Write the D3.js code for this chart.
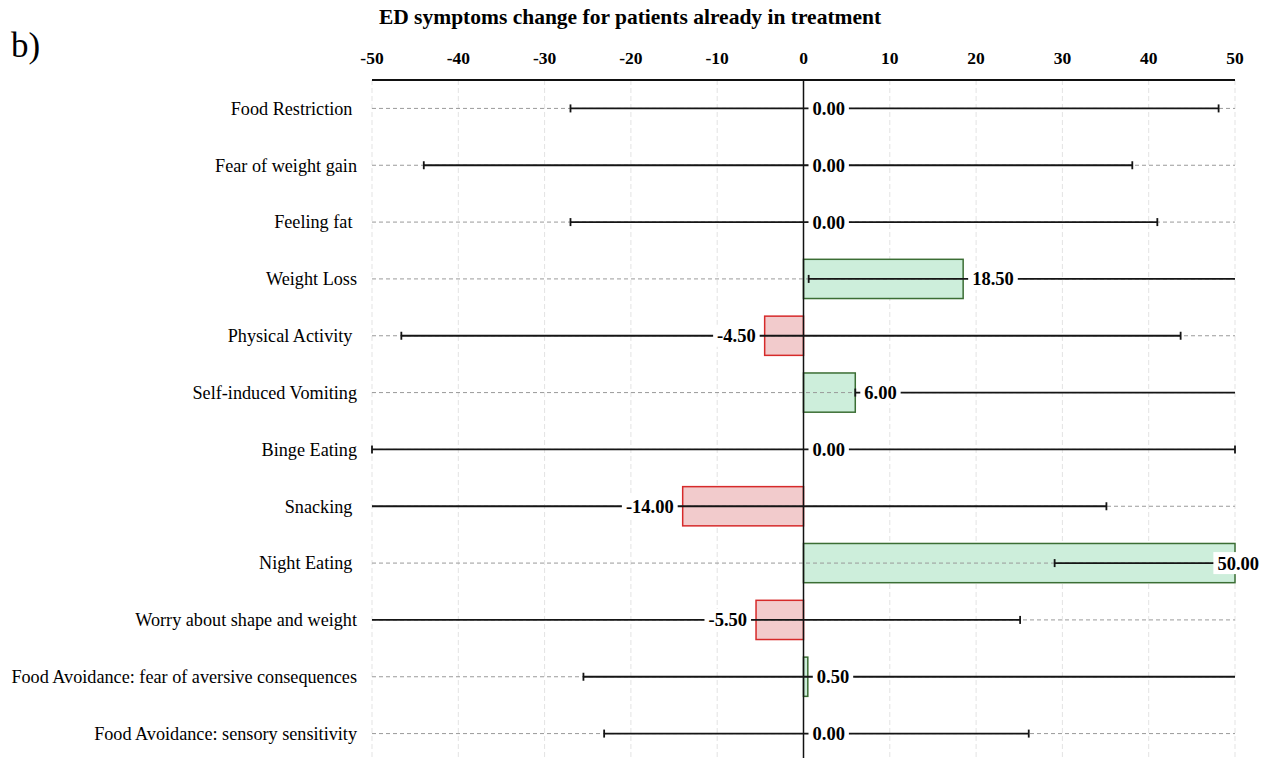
<!DOCTYPE html>
<html>
<head>
<meta charset="utf-8">
<script src="https://cdn.jsdelivr.net/npm/d3@7"></script>
<style>
  body { margin: 0; background: #fff; }
  svg { display: block; font-family: "Liberation Serif", "Times New Roman", serif; }
</style>
</head>
<body>
<div id="chart"></div>
<script>
// data
const categories = [
  "Food Restriction ", "Fear of weight gain", "Feeling fat ", "Weight Loss",
  "Physical Activity ", "Self-induced Vomiting", "Binge Eating", "Snacking ",
  "Night Eating ", "Worry about shape and weight",
  "Food Avoidance: fear of aversive consequences", "Food Avoidance: sensory sensitivity"
];
const values = [0, 0, 0, 18.5, -4.5, 6, 0, -14, 50, -5.5, 0.5, 0];
const lowerCI = [-27, -44, -27, 0.6, -46.6, 6, -50, -55, 29.1, -55, -25.5, -23.1];
const upperCI = [48.1, 38.1, 41, 55, 43.7, 55, 50, 35.1, 55, 25.1, 55, 26.1];
const xTicks = [-50, -40, -30, -20, -10, 0, 10, 20, 30, 40, 50];

const WIDTH = 1271, HEIGHT = 758;
const MARGIN = { left: 372, right: 36, top: 80 };

const rows = categories.map((c, i) => ({
  cat: c, value: values[i], lo: lowerCI[i], hi: upperCI[i]
}));

const svg = d3.select("#chart").append("svg")
  .attr("width", WIDTH)
  .attr("height", HEIGHT);

const x = d3.scaleLinear()
  .domain([-50, 50])
  .range([MARGIN.left, WIDTH - MARGIN.right]);

const y = d3.scaleBand()
  .domain(categories)
  .range([MARGIN.top, 762])
  .paddingInner(0.31)
  .paddingOuter(0.155);

const yc = d => y(d) + y.bandwidth() / 2;

// vertical grid
svg.append("g")
  .selectAll("line")
  .data(xTicks)
  .join("line")
  .attr("x1", d => x(d)).attr("x2", d => x(d))
  .attr("y1", MARGIN.top).attr("y2", HEIGHT)
  .attr("stroke", "#e3e3e3")
  .attr("stroke-dasharray", "5,3");

// bars
svg.append("g")
  .selectAll("rect")
  .data(rows.filter(d => d.value !== 0))
  .join("rect")
  .attr("x", d => x(Math.min(0, d.value)))
  .attr("y", d => y(d.cat))
  .attr("width", d => Math.abs(x(d.value) - x(0)))
  .attr("height", y.bandwidth())
  .attr("fill", d => d.value > 0 ? "#cdeedb" : "#f2cbcc")
  .attr("stroke", d => d.value > 0 ? "#3b6e34" : "#d62a2a")
  .attr("stroke-width", 1.5);

// row guide lines
svg.append("g")
  .selectAll("line")
  .data(categories)
  .join("line")
  .attr("x1", x(-50)).attr("x2", x(50))
  .attr("y1", d => yc(d)).attr("y2", d => yc(d))
  .attr("stroke", "#9a9a9a")
  .attr("stroke-dasharray", "4,3");

// zero line
svg.append("line")
  .attr("x1", x(0)).attr("x2", x(0))
  .attr("y1", MARGIN.top).attr("y2", HEIGHT)
  .attr("stroke", "#111")
  .attr("stroke-width", 1.5);

// top axis
svg.append("line")
  .attr("x1", x(-50)).attr("x2", x(50))
  .attr("y1", MARGIN.top).attr("y2", MARGIN.top)
  .attr("stroke", "#111")
  .attr("stroke-width", 2);

svg.append("g")
  .selectAll("text")
  .data(xTicks)
  .join("text")
  .attr("x", d => x(d))
  .attr("y", 64)
  .attr("text-anchor", "middle")
  .style("font-size", "17.5px")
  .style("font-weight", "bold")
  .text(d => d);

// error bars
const [dmin, dmax] = x.domain();
const err = svg.append("g").attr("stroke", "#151515").attr("stroke-width", 1.8);
rows.forEach(d => {
  const lo = Math.max(d.lo, dmin), hi = Math.min(d.hi, dmax);
  const cy = yc(d.cat);
  err.append("line")
    .attr("x1", x(lo)).attr("x2", x(hi))
    .attr("y1", cy).attr("y2", cy);
  if (d.lo >= dmin) {
    err.append("line").attr("x1", x(lo)).attr("x2", x(lo))
      .attr("y1", cy - 4).attr("y2", cy + 4);
  }
  if (d.hi <= dmax) {
    err.append("line").attr("x1", x(hi)).attr("x2", x(hi))
      .attr("y1", cy - 4).attr("y2", cy + 4);
  }
});

// value labels with white boxes
const labels = svg.append("g");
rows.forEach(d => {
  const g = labels.append("g");
  const box = g.append("rect").attr("fill", "#fff");
  const t = g.append("text")
    .attr("y", yc(d.cat))
    .attr("dy", "0.35em")
    .style("font-size", "18.5px")
    .style("font-weight", "bold")
    .text(d.value.toFixed(2));
  const w = t.node().getComputedTextLength();
  let tx = d.value < 0 ? x(d.value) - 9 - w : x(d.value) + 9;
  tx = Math.min(tx, WIDTH - 12 - w);
  t.attr("x", tx);
  box.attr("x", tx - 4).attr("width", w + 8)
    .attr("y", yc(d.cat) - 11).attr("height", 22);
});

// category labels
svg.append("g")
  .selectAll("text")
  .data(categories)
  .join("text")
  .attr("x", 357)
  .attr("y", d => yc(d))
  .attr("dy", "0.35em")
  .attr("text-anchor", "end")
  .attr("xml:space", "preserve")
  .style("white-space", "pre")
  .style("font-size", "18.2px")
  .text(d => d);

// title
svg.append("text")
  .attr("x", 630)
  .attr("y", 24)
  .attr("text-anchor", "middle")
  .style("font-size", "21.5px")
  .style("font-weight", "bold")
  .text("ED symptoms change for patients already in treatment");

svg.append("text")
  .attr("x", 11)
  .attr("y", 57)
  .style("font-size", "35px")
  .text("b)");
</script>
</body>
</html>
